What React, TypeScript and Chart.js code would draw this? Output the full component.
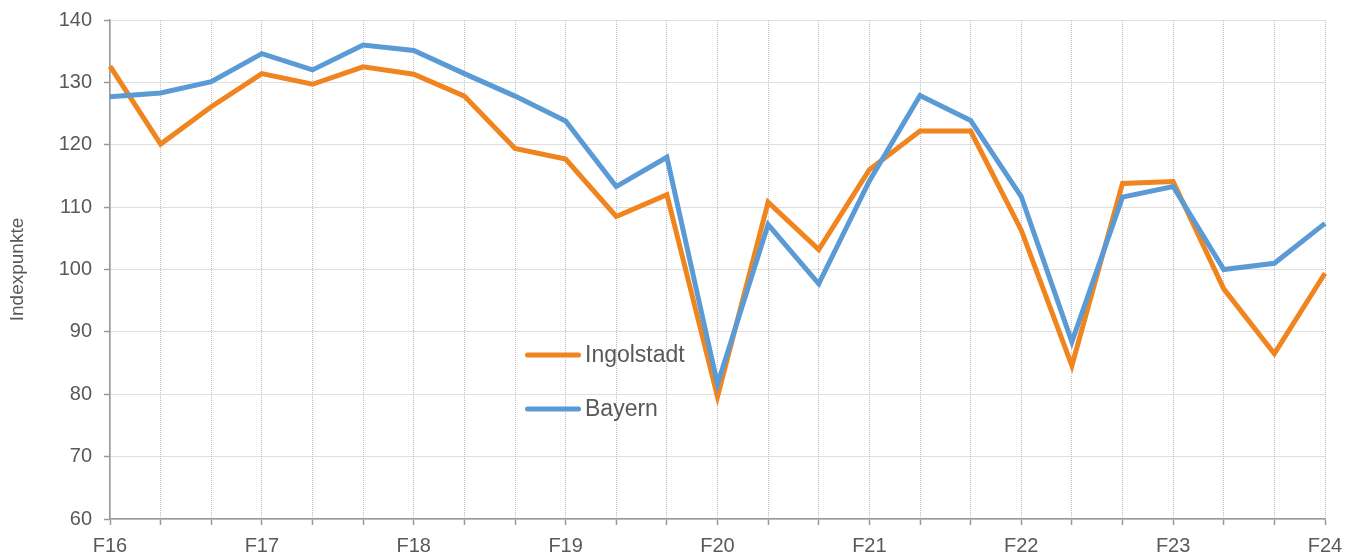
import React, { useEffect, useRef } from "react";
import { Chart, registerables } from "chart.js";

Chart.register(...registerables);

const categories = [
  "F16", "S16", "H16",
  "F17", "S17", "H17",
  "F18", "S18", "H18",
  "F19", "S19", "H19",
  "F20", "S20", "H20",
  "F21", "S21", "H21",
  "F22", "S22", "H22",
  "F23", "S23", "H23",
  "F24",
];

const ingolstadt = [
  132.6, 120.1, 126.1, 131.4, 129.7, 132.5, 131.3, 127.8, 119.4, 117.7,
  108.5, 112.0, 79.6, 110.8, 103.2, 116.0, 122.2, 122.2, 106.3, 84.6,
  113.8, 114.1, 96.9, 86.5, 99.4,
];

const bayern = [
  127.7, 128.3, 130.1, 134.6, 132.0, 136.0, 135.1, 131.4, 127.8, 123.8,
  113.3, 118.0, 81.6, 107.2, 97.7, 114.2, 127.9, 123.9, 111.7, 88.4,
  111.6, 113.3, 100.0, 101.0, 107.4,
];

const yTicks = [60, 70, 80, 90, 100, 110, 120, 130, 140];

const ORANGE = "#F0841E";
const BLUE = "#5B9BD5";
const TEXT = "#595959";
const FONT = "'Liberation Sans', Arial, sans-serif";

const legendItems = [
  { label: "Ingolstadt", color: ORANGE },
  { label: "Bayern", color: BLUE },
];

const legendPlugin = {
  id: "customLegend",
  afterDatasetsDraw(chart: any) {
    const ctx = chart.ctx;
    ctx.save();
    const x0 = 527.5;
    const x1 = 578.5;
    const tx = 585;
    const rows = [355, 409];
    legendItems.forEach((item, i) => {
      const y = rows[i];
      ctx.beginPath();
      ctx.strokeStyle = item.color;
      ctx.lineWidth = 5;
      ctx.lineCap = "round";
      ctx.moveTo(x0, y);
      ctx.lineTo(x1, y);
      ctx.stroke();
      ctx.fillStyle = TEXT;
      ctx.font = `23px ${FONT}`;
      ctx.textBaseline = "middle";
      ctx.textAlign = "left";
      ctx.fillText(item.label, tx, y + 1);
    });
    ctx.restore();
  },
};

export default function App() {
  const ref = useRef<HTMLCanvasElement | null>(null);

  useEffect(() => {
    if (!ref.current) return;
    const chart = new Chart(ref.current, {
      type: "line",
      data: {
        labels: categories,
        datasets: [
          {
            label: "Ingolstadt",
            data: ingolstadt,
            borderColor: ORANGE,
            backgroundColor: ORANGE,
            borderWidth: 5,
            pointRadius: 0,
            tension: 0,
            order: 1,
          },
          {
            label: "Bayern",
            data: bayern,
            borderColor: BLUE,
            backgroundColor: BLUE,
            borderWidth: 5,
            pointRadius: 0,
            tension: 0,
            order: 0,
          },
        ],
      },
      options: {
        animation: false,
        responsive: true,
        maintainAspectRatio: false,
        layout: { padding: { left: 0, right: 29, top: 20, bottom: 0 } },
        plugins: {
          legend: { display: false },
          tooltip: { enabled: false },
        },
        scales: {
          x: {
            type: "category",
            offset: false,
            grid: {
              color: "#bfbfbf",
              lineWidth: 1,
              tickLength: 6,
              tickColor: "#9a9a9a",
              tickWidth: 1.5,
            },
            border: { display: true, color: "#9a9a9a", width: 1.5, dash: [1, 1] },
            ticks: {
              autoSkip: false,
              maxRotation: 0,
              minRotation: 0,
              padding: 9,
              color: TEXT,
              font: { family: FONT, size: 20 },
              callback: (_v: any, i: number) => (i % 3 === 0 ? categories[i] : ""),
            },
            afterFit: (scale: any) => {
              scale.height = 34;
            },
          },
          y: {
            min: 60,
            max: 140,
            afterBuildTicks: (scale: any) => {
              scale.ticks = yTicks.map((v) => ({ value: v }));
            },
            grid: {
              color: "#bfbfbf",
              lineWidth: 1,
              tickLength: 6,
              tickColor: "#9a9a9a",
              tickWidth: 1.5,
            },
            border: { display: true, color: "#9a9a9a", width: 1.5, dash: [1, 1] },
            ticks: {
              padding: 12,
              color: TEXT,
              font: { family: FONT, size: 20 },
            },
            title: {
              display: true,
              text: "Indexpunkte",
              color: TEXT,
              font: { family: FONT, size: 19 },
              padding: { top: 6, bottom: 0 },
            },
            afterFit: (scale: any) => {
              scale.width = 110;
              scale.paddingTop = 0;
              scale.paddingBottom = 0;
            },
          },
        },
      },
      plugins: [legendPlugin],
    });
    return () => chart.destroy();
  }, []);

  return (
    <div style={{ position: "absolute", left: 0, top: 0, width: 1354, height: 553, background: "#fff" }}>
      <canvas ref={ref} />
    </div>
  );
}
